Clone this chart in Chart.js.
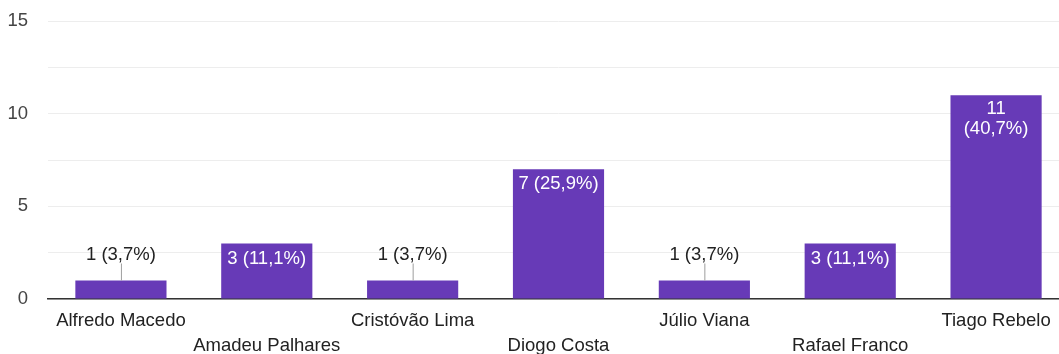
<!DOCTYPE html>
<html>
<head>
<meta charset="utf-8">
<script src="https://cdn.jsdelivr.net/npm/chart.js@4"></script>
<style>
  html, body { margin: 0; padding: 0; background: #fff; overflow: hidden; }
  #wrap { position: relative; width: 1069px; height: 364px; margin-top: -10px; }
</style>
</head>
<body>
<div id="wrap"><canvas id="chart"></canvas></div>
<script>
// ── DATA ──────────────────────────────────────────────
const names  = ['Alfredo Macedo', 'Amadeu Palhares', 'Cristóvão Lima', 'Diogo Costa',
                'Júlio Viana', 'Rafael Franco', 'Tiago Rebelo'];
const votes  = [1, 3, 1, 7, 1, 3, 11];
const yTicks = [0, 5, 10, 15];

const total = votes.reduce((a, b) => a + b, 0);
const pct = v => (v / total * 100).toFixed(1).replace('.', ',') + '%';
const FONT = 'Arial, "Liberation Sans", sans-serif';

// draws "n (x,x%)" on each bar — inside if it fits, else above with a leader line
const barLabels = {
  id: 'barLabels',
  afterDatasetsDraw(chart) {
    const ctx = chart.ctx;
    const meta = chart.getDatasetMeta(0);
    ctx.save();
    ctx.font = '18.5px ' + FONT;
    ctx.textAlign = 'center';
    ctx.textBaseline = 'middle';
    meta.data.forEach((bar, i) => {
      const v = votes[i];
      const txt = v + ' (' + pct(v) + ')';
      const w = bar.width;
      const h = bar.base - bar.y;
      if (h > 40) {
        ctx.fillStyle = '#ffffff';
        if (ctx.measureText(txt).width > w - 5) {
          ctx.fillText(String(v), bar.x, bar.y + 14);
          ctx.fillText('(' + pct(v) + ')', bar.x, bar.y + 34);
        } else {
          ctx.fillText(txt, bar.x, bar.y + 15);
        }
      } else {
        ctx.strokeStyle = '#9e9e9e';
        ctx.lineWidth = 1;
        ctx.beginPath();
        ctx.moveTo(bar.x + 0.5, bar.y);
        ctx.lineTo(bar.x + 0.5, bar.y - 17);
        ctx.stroke();
        ctx.fillStyle = '#222222';
        ctx.fillText(txt, bar.x, bar.y - 26);
      }
    });
    ctx.restore();
  }
};

new Chart(document.getElementById('chart'), {
  type: 'bar',
  data: {
    labels: names,
    datasets: [{
      data: votes,
      backgroundColor: '#673ab7',
      barPercentage: 0.625,
      categoryPercentage: 1.0
    }]
  },
  options: {
    responsive: true,
    maintainAspectRatio: false,
    animation: false,
    layout: { padding: { top: 1, right: 0, left: 0, bottom: 0 } },
    plugins: {
      legend: { display: false },
      tooltip: { enabled: false }
    },
    scales: {
      x: {
        grid: { display: false, drawTicks: false },
        border: { color: '#333333', width: 1.5 },
        ticks: {
          color: '#222222',
          font: { family: FONT, size: 18.5, lineHeight: 1.35 },
          padding: 9,
          autoSkip: false,
          minRotation: 0,
          maxRotation: 0,
          // stagger alternate labels onto a second row
          callback: (v, i) => i % 2 ? ['', names[i]] : names[i]
        },
        afterFit: s => { s.height = 55; }
      },
      y: {
        min: 0,
        max: 15,
        grid: { color: '#ededed', drawTicks: false },
        border: { display: false },
        ticks: {
          stepSize: 2.5,
          color: '#444444',
          padding: 20,
          font: { family: FONT, size: 18.5 },
          callback: v => yTicks.includes(v) ? String(v) : ''
        },
        afterFit: s => { s.width = 48; }
      }
    }
  },
  plugins: [barLabels]
});
</script>
</body>
</html>
